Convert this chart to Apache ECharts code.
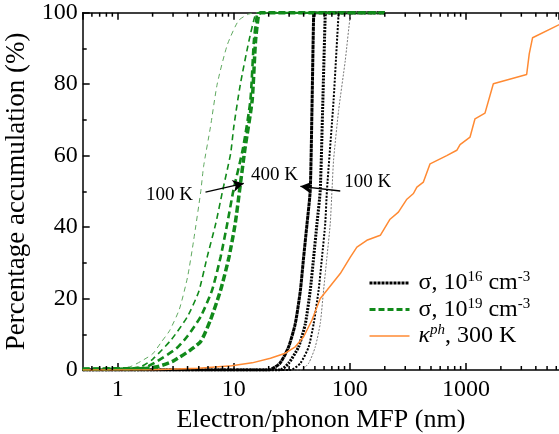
<!DOCTYPE html>
<html>
<head>
<meta charset="utf-8">
<script src="https://cdn.jsdelivr.net/npm/echarts@6/dist/echarts.min.js"></script>
<style>
  html, body { margin: 0; padding: 0; background: #fff; }
  #chart { width: 559px; height: 434px; }
</style>
</head>
<body>
<div id="chart"></div>
<script>
// cumulative curves: [MFP (nm), accumulation (%)]
const sigma16_400K = [[0.5, 0], [20, 0], [25, 1.9], [29.7, 6.5], [33.9, 13], [37.5, 22.3], [40, 31.6], [42.8, 41], [45.6, 50.3], [47.3, 75], [48.8, 99.6], [49.5, 100], [200, 100]]
const sigma16_300K = [[0.5, 0], [25, 0], [29.7, 1.9], [36.2, 6.5], [41.4, 13], [45.6, 22.3], [48.8, 31.6], [52.1, 41], [55.6, 50.3], [58.5, 75], [61.4, 99.6], [62, 100], [200, 100]]
const sigma16_200K = [[0.5, 0], [30.7, 0], [37.5, 1.9], [44.2, 6.5], [48.8, 13], [53.8, 22.3], [57.6, 31.6], [61.4, 41], [63.5, 50.3], [72.4, 75.4], [80, 99.6], [81, 100], [200, 100]]
const sigma16_100K = [[0.5, 0], [37.5, 0], [44.2, 1.9], [50.4, 6.5], [55.6, 13], [59.4, 22.3], [63.5, 31.6], [67.8, 41], [70.2, 50.3], [72.4, 58.7], [80, 72.6], [91.3, 86.6], [101, 99.2], [105, 100], [200, 100]]

const sigma19_100K = [[0.5, 0.3], [1.0, 0.4], [1.3, 1], [1.6, 2.5], [2.0, 4.5], [2.4, 8], [2.8, 11], [3.4, 17], [4.0, 26], [4.5, 36], [5.2, 50], [5.5, 57], [6.3, 68], [7.2, 80], [8.8, 91], [11, 97.8], [13.4, 99.6], [16, 100], [200, 100]]
const sigma19_200K = [[0.5, 0.3], [1.2, 0.4], [1.6, 1], [2.0, 3], [2.9, 8.5], [4.0, 15], [5.0, 22], [5.9, 31.6], [7.0, 41], [8.0, 50], [9.4, 60.6], [10, 68], [11.4, 80], [13.5, 92], [15.4, 99.6], [16.5, 100], [200, 100]]
const sigma19_300K = [[0.5, 0.3], [1.4, 0.4], [1.7, 0.6], [2.2, 2.5], [3.2, 6], [4.0, 9.5], [5.2, 15], [6.5, 22.3], [7.7, 31.6], [8.8, 41], [9.9, 50], [12, 62], [13.9, 75.4], [14.9, 92], [15.9, 99.6], [16.8, 100], [200, 100]]
const sigma19_400K = [[0.5, 0.3], [1.6, 0.4], [2.2, 0.9], [3.0, 2.5], [4.2, 5.5], [5.2, 8], [6.3, 14], [7.7, 22.3], [9.1, 31.6], [10.3, 41], [11.2, 50], [12.5, 62], [14.4, 75.4], [15.4, 92], [16.4, 99.6], [17.2, 100], [200, 100]]

const kappaPh_300K = [[0.5, 0], [2, 0.1], [5, 0.5], [9.6, 1.2], [14.4, 2], [20.7, 3.3], [27.8, 4.7], [33.9, 6.5], [40, 9.3], [47.2, 14], [55.6, 20], [63.5, 22.3], [82.7, 27], [101, 31.6], [115, 34.4], [140, 36.3], [183, 37.7], [222, 42.2], [262, 44.2], [310, 47.8], [353, 49.4], [378, 51.2], [430, 52.6], [491, 57.7], [683, 60], [834, 61.5], [890, 63.1], [1085, 65.2], [1197, 70.3], [1459, 71.9], [1722, 80.1], [3334, 82.7], [3510, 88.5], [3750, 93], [6310, 96.6], [7000, 97.2]]

const minorTickValues = [0.6, 0.7, 0.8, 0.9, 2, 3, 4, 5, 6, 7, 8, 9, 20, 30, 40, 50, 60, 70, 80, 90,
  200, 300, 400, 500, 600, 700, 800, 900, 2000, 3000, 4000, 5000, 6000]

const serif = '"Liberation Serif", "Times New Roman", serif'
const green = '#118a1a'
const xMax = 6333

const chart = echarts.init(document.getElementById('chart'))

function curve(name, data, color, width, type) {
  return {
    type: 'line',
    name,
    data,
    symbol: 'none',
    smooth: 0.2,
    silent: true,
    lineStyle: { color, width, type },
    itemStyle: { color },
  }
}

const axisLine = { show: true, lineStyle: { color: '#000', width: 1.5 } }
const tick = { show: true, inside: true, length: 7, lineStyle: { color: '#000', width: 1.5 } }
const hidden = { opacity: 0 }

chart.setOption({
  animation: false,
  backgroundColor: '#fff',
  grid: { left: 82.7, right: 0, top: 12.7, bottom: 64, outerBoundsMode: 'none' },
  legend: {
    orient: 'vertical',
    left: 363,
    top: 265,
    itemWidth: 40,
    itemHeight: 10,
    itemGap: 1.5,
    selectedMode: false,
    data: [
      { name: 'b16', itemStyle: hidden, lineStyle: { color: '#000', width: 3, type: [3, 1] } },
      { name: 'g19', itemStyle: hidden, lineStyle: { color: green, width: 3, type: [6, 3] } },
      { name: 'kph', itemStyle: hidden, lineStyle: { color: '#ff8a33', width: 1.5, type: 'solid' } },
    ],
    formatter: (name) => {
      if (name === 'b16') return '{t|σ, 10}{s|16}{t| cm}{s|-3}'
      if (name === 'g19') return '{t|σ, 10}{s|19}{t| cm}{s|-3}'
      return '{i|κ}{si|ph}{t|, 300 K}'
    },
    textStyle: {
      color: '#000',
      padding: [0, 0, 0, 4],
      rich: {
        t: { fontSize: 24, fontFamily: serif, lineHeight: 26, color: '#000' },
        s: { fontSize: 15, fontFamily: serif, lineHeight: 15, verticalAlign: 'top', color: '#000' },
        i: { fontSize: 24, fontFamily: serif, fontStyle: 'italic', lineHeight: 26, color: '#000' },
        si: { fontSize: 15, fontFamily: serif, fontStyle: 'italic', lineHeight: 15, verticalAlign: 'top', color: '#000' },
      },
    },
  },
  xAxis: [
    {
      type: 'log',
      logBase: 10,
      min: 0.5,
      max: xMax,
      position: 'bottom',
      axisLine,
      axisTick: tick,
      splitLine: { show: false },
      axisLabel: {
        margin: 8,
        fontSize: 24,
        fontFamily: serif,
        color: '#000',
        showMinLabel: false,
        showMaxLabel: false,
        formatter: (v) => String(Math.round(v)),
      },
      name: 'Electron/phonon MFP (nm)',
      nameLocation: 'middle',
      nameGap: 32,
      nameTextStyle: { fontSize: 26, fontFamily: serif, color: '#000' },
    },
    {
      type: 'log',
      logBase: 10,
      min: 0.5,
      max: xMax,
      position: 'top',
      axisLine,
      axisTick: tick,
      splitLine: { show: false },
      axisLabel: { show: false },
    },
  ],
  yAxis: {
    type: 'value',
    min: 0,
    max: 100,
    interval: 20,
    axisLine,
    axisTick: tick,
    minorTick: { show: true, splitNumber: 2, length: 4, lineStyle: { color: '#000', width: 1.5 } },
    splitLine: { show: false },
    minorSplitLine: { show: false },
    axisLabel: { margin: 5, fontSize: 24, fontFamily: serif, color: '#000' },
    name: 'Percentage accumulation (%)',
    nameLocation: 'middle',
    nameGap: 46,
    nameTextStyle: { fontSize: 27, fontFamily: serif, color: '#000' },
  },
  series: [
    {
      type: 'custom',
      silent: true,
      z: 10,
      data: minorTickValues.map((v) => [v, 0]),
      renderItem: (params, api) => {
        const v = api.value(0)
        const b = api.coord([v, 0])
        const t = api.coord([v, 100])
        const style = { stroke: '#000', lineWidth: 1.5 }
        return {
          type: 'group',
          children: [
            { type: 'line', shape: { x1: b[0], y1: b[1], x2: b[0], y2: b[1] - 4 }, style },
            { type: 'line', shape: { x1: t[0], y1: t[1], x2: t[0], y2: t[1] + 4 }, style },
          ],
        }
      },
    },
    curve('b16', sigma16_100K, '#777', 1, [2, 1.5]),
    curve('b16', sigma16_200K, '#000', 2, [2, 1.5]),
    curve('b16', sigma16_300K, '#000', 3, [2, 1.2]),
    curve('b16', sigma16_400K, '#000', 3, [4, 0.5]),
    curve('g19', sigma19_100K, '#5fa85f', 1, [5, 4]),
    curve('g19', sigma19_200K, green, 1.6, [6, 4]),
    curve('g19', sigma19_300K, green, 2.6, [7, 4]),
    curve('g19', sigma19_400K, green, 3.5, [7, 3]),
    {
      ...curve('kph', kappaPh_300K, '#ff8a33', 1.5, 'solid'),
      smooth: false,
      markLine: {
        silent: true,
        symbol: ['none', 'arrow'],
        symbolSize: [9, 11],
        label: { show: false },
        lineStyle: { color: '#000', width: 1.3, type: 'solid' },
        data: [
          [{ coord: [5.71, 49.8] }, { coord: [12.2, 52.2] }],
          [{ coord: [82.7, 50.1] }, { coord: [37.5, 51.4] }],
        ],
      },
      markPoint: {
        silent: true,
        symbol: 'rect',
        symbolSize: 1,
        itemStyle: { color: 'rgba(0,0,0,0)' },
        label: {
          show: true,
          position: 'inside',
          formatter: (p) => p.name,
          fontSize: 19,
          fontFamily: serif,
          color: '#000',
        },
        data: [
          { name: '100 K', coord: [2.8, 48.9] },
          { name: '400 K', coord: [22.4, 54.6] },
          { name: '100 K', coord: [142.6, 52.6] },
        ],
      },
    },
  ],
})
</script>
</body>
</html>
